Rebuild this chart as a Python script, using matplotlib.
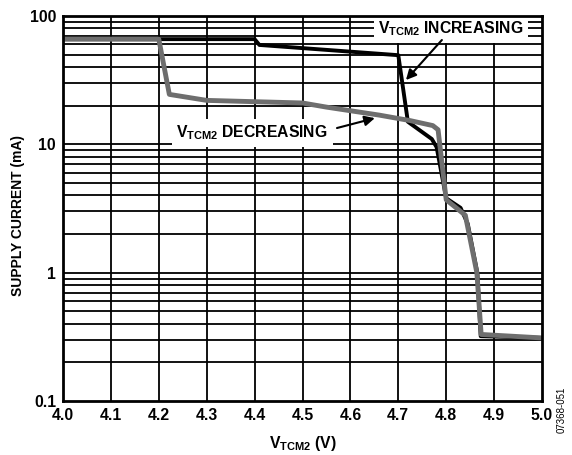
import numpy as np
import matplotlib
matplotlib.use("Agg")
import matplotlib.pyplot as plt

plt.rcParams['font.family'] = ['Liberation Sans', 'DejaVu Sans']
plt.rcParams['font.weight'] = 'bold'
plt.rcParams['mathtext.fontset'] = 'custom'
plt.rcParams['mathtext.rm'] = 'Liberation Sans:bold'
plt.rcParams['mathtext.bf'] = 'Liberation Sans:bold'
plt.rcParams['mathtext.it'] = 'Liberation Sans:bold'

# V_TCM2 increasing (black)
inc_v = [4.00, 4.40, 4.41, 4.70, 4.72, 4.77, 4.78, 4.80, 4.83, 4.845, 4.865, 4.872, 5.00]
inc_i = [66, 66, 59.5, 49.5, 15, 11, 9.5, 3.8, 3.2, 2.4, 1.0, 0.32, 0.31]

# V_TCM2 decreasing (grey)
dec_v = [4.00, 4.20, 4.222, 4.30, 4.50, 4.55, 4.66, 4.725, 4.772, 4.783, 4.80, 4.84, 4.864, 4.873, 5.00]
dec_i = [66, 66, 24.5, 22, 21, 19.5, 16.9, 15.3, 14.0, 13.0, 3.7, 2.8, 1.0, 0.33, 0.31]

x_ticks = [4.0, 4.1, 4.2, 4.3, 4.4, 4.5, 4.6, 4.7, 4.8, 4.9, 5.0]
y_ticks = [0.1, 1, 10, 100]
y_labels = ['0.1', '1', '10', '100']

fs = 11.3

fig = plt.figure(figsize=(5.72, 4.55), dpi=100)
ax = fig.add_axes([63 / 572, 1 - 401 / 455, 479 / 572, 385 / 455])
ax.set_yscale('log')
ax.set_xlim(4.0, 5.0)
ax.set_ylim(0.1, 100)

# grid drawn by hand so label boxes can cover it
for x in x_ticks[1:-1]:
    ax.axvline(x, color='black', lw=1.3, zorder=1)
for dec in [0.1, 1, 10]:
    for m in range(1, 10):
        if dec * m > 0.1:
            ax.axhline(dec * m, color='black', lw=1.3, zorder=1)

ax.plot(inc_v, inc_i, color='black', lw=2.8, zorder=3, solid_joinstyle='round')
ax.plot(dec_v, dec_i, color='#6e6e6e', lw=3.5, zorder=4, solid_joinstyle='round')

ax.set_xticks(x_ticks)
ax.set_xticklabels(['%.1f' % x for x in x_ticks], fontweight='bold')
ax.set_yticks(y_ticks)
ax.set_yticklabels(y_labels, fontweight='bold')
ax.minorticks_off()
ax.tick_params(length=0, labelsize=fs, pad=5)
for s in ax.spines.values():
    s.set_linewidth(2)
    s.set_zorder(6)

ax.set_xlabel(r'$\mathbf{V_{TCM2}}$ (V)', fontsize=fs, fontweight='bold', labelpad=8)
fig.text(18 / 572, 1 - 215 / 455, 'SUPPLY CURRENT (mA)', rotation=90, ha='center', va='center',
         fontsize=10, fontweight='bold')

box = dict(boxstyle='square,pad=0.3', fc='white', ec='none')
ax.text(4.81, 79, r'$\mathbf{V_{TCM2}}$ INCREASING', ha='center', va='center',
        fontsize=fs, fontweight='bold', bbox=box, zorder=5)
ax.annotate('', xy=(4.716, 31.7), xytext=(4.791, 65), zorder=5,
            arrowprops=dict(arrowstyle='-|>', color='black', lw=1.5,
                            shrinkA=0, shrinkB=0, mutation_scale=15))
ax.text(4.395, 12.25, r'$\mathbf{V_{TCM2}}$ DECREASING', ha='center', va='center',
        fontsize=fs, fontweight='bold', bbox=box, zorder=5)
ax.annotate('', xy=(4.651, 16.0), xytext=(4.572, 13.4), zorder=5,
            arrowprops=dict(arrowstyle='-|>', color='black', lw=1.5,
                            shrinkA=0, shrinkB=0, mutation_scale=15))

fig.text(562 / 572, 1 - 410 / 455, '07368-051', rotation=90, ha='center', va='center',
         fontsize=7, fontweight='normal')

fig.savefig('out.png', dpi=100)
